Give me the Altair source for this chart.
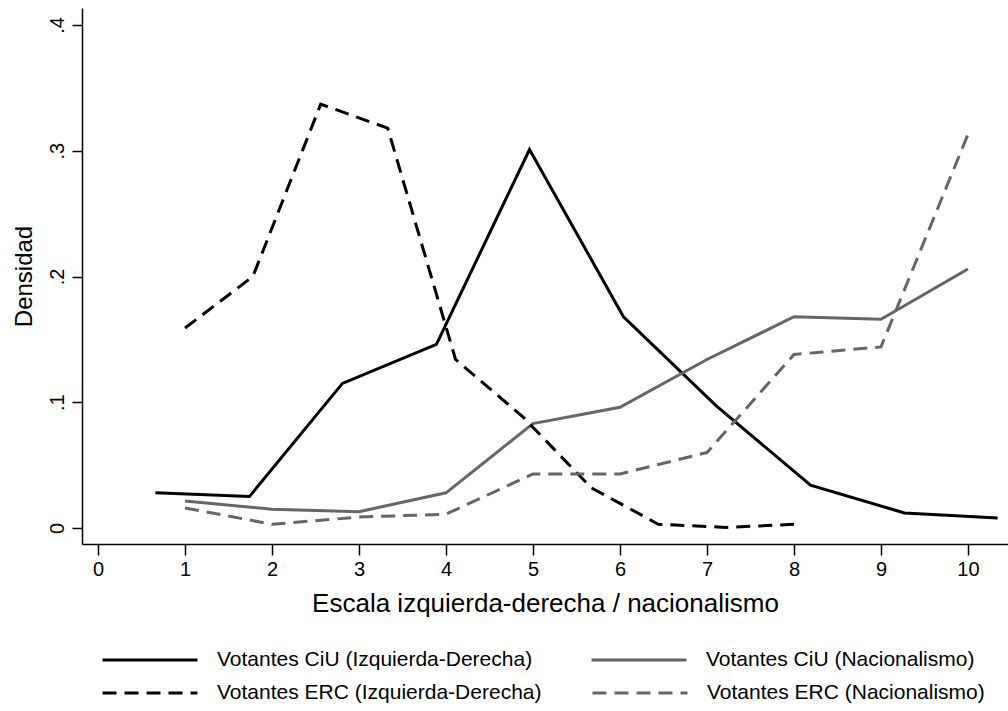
import altair as alt
import pandas as pd

ciu_names = ["Votantes CiU (Izquierda-Derecha)", "Votantes CiU (Nacionalismo)"]
erc_names = ["Votantes ERC (Izquierda-Derecha)", "Votantes ERC (Nacionalismo)"]

ciu_izq_x = [0.66, 1.74, 2.81, 3.89, 4.96, 6.04, 7.11, 8.19, 9.27, 10.34]
ciu_izq_y = [0.028, 0.025, 0.115, 0.146, 0.301, 0.168, 0.097, 0.034, 0.012, 0.008]

erc_izq_x = [1.0, 1.78, 2.56, 3.33, 4.11, 4.89, 5.67, 6.44, 7.22, 8.0]
erc_izq_y = [0.159, 0.200, 0.337, 0.318, 0.134, 0.088, 0.032, 0.003, 0.0005, 0.003]

nac_x = [1, 2, 3, 4, 5, 6, 7, 8, 9, 10]
ciu_nac_y = [0.0215, 0.015, 0.013, 0.028, 0.083, 0.096, 0.134, 0.168, 0.166, 0.206]
erc_nac_y = [0.016, 0.003, 0.0087, 0.011, 0.043, 0.043, 0.060, 0.138, 0.144, 0.313]


def build(pairs):
    rows = []
    for xs, ys, name in pairs:
        for i, (x, y) in enumerate(zip(xs, ys)):
            rows.append({"x": x, "y": y, "serie": name, "orden": i})
    return pd.DataFrame(rows)


df_ciu = build([(ciu_izq_x, ciu_izq_y, ciu_names[0]), (nac_x, ciu_nac_y, ciu_names[1])])
df_erc = build([(erc_izq_x, erc_izq_y, erc_names[0]), (nac_x, erc_nac_y, erc_names[1])])

FONT = "Liberation Sans"
DASH = [14, 8]

x_enc = alt.X(
    "x:Q",
    scale=alt.Scale(domain=[-0.184, 10.46], nice=False, zero=False),
    axis=alt.Axis(
        values=list(range(0, 11)),
        title="Escala izquierda-derecha / nacionalismo",
        titleFontSize=26,
        titleFontWeight="normal",
        titlePadding=11,
        labelFontSize=20,
        labelPadding=4,
        tickSize=11,
        grid=False,
        domainColor="black",
        tickColor="black",
        labelColor="black",
        titleColor="black",
    ),
)
y_enc = alt.Y(
    "y:Q",
    scale=alt.Scale(domain=[-0.0127, 0.4135], nice=False, zero=False),
    axis=alt.Axis(
        values=[0, 0.1, 0.2, 0.3, 0.4],
        labelExpr="datum.value == 0 ? '0' : replace(format(datum.value, '.1f'), '0.', '.')",
        labelAngle=270,
        labelAlign="center",
        labelBaseline="bottom",
        title="Densidad",
        titleFontSize=24,
        titleFontWeight="normal",
        titlePadding=11,
        labelFontSize=20,
        labelPadding=5,
        tickSize=10,
        grid=False,
        domainColor="black",
        tickColor="black",
        labelColor="black",
        titleColor="black",
    ),
)


def legend(y, pad, dash=None):
    kw = dict(
        title=None,
        orient="none",
        legendX=19,
        legendY=y,
        columns=2,
        columnPadding=pad,
        symbolType="stroke",
        symbolSize=9025,
        symbolStrokeWidth=3,
        labelFontSize=21,
        labelOffset=18,
        labelColor="black",
        labelLimit=500,
    )
    if dash is not None:
        kw["symbolDash"] = dash
    return alt.Legend(**kw)


ciu = (
    alt.Chart(df_ciu)
    .mark_line(strokeWidth=3, strokeJoin="miter")
    .encode(
        x=x_enc,
        y=y_enc,
        color=alt.Color(
            "serie:N",
            scale=alt.Scale(domain=ciu_names, range=["#000000", "#666666"]),
            legend=legend(603, 52),
        ),
        order="orden:Q",
    )
)

erc = (
    alt.Chart(df_erc)
    .mark_line(strokeWidth=3, strokeJoin="miter", strokeDash=DASH)
    .encode(
        x=x_enc,
        y=y_enc,
        color=alt.Color(
            "serie:N",
            scale=alt.Scale(domain=erc_names, range=["#000000", "#666666"]),
            legend=legend(636, 44, DASH),
        ),
        order="orden:Q",
    )
)

chart = (
    alt.layer(ciu, erc)
    .resolve_scale(color="independent")
    .resolve_legend(color="independent")
    .properties(
        width=926,
        height=536,
        autosize=alt.AutoSizeParams(type="none"),
        padding={"left": 82, "top": 8, "right": 0, "bottom": 167},
    )
    .configure(font=FONT, background="white")
    .configure_view(stroke=None)
    .configure_axis(domainWidth=1.5, tickWidth=1.5)
)

chart.save("out.html", embed_options={"renderer": "svg", "actions": False})
